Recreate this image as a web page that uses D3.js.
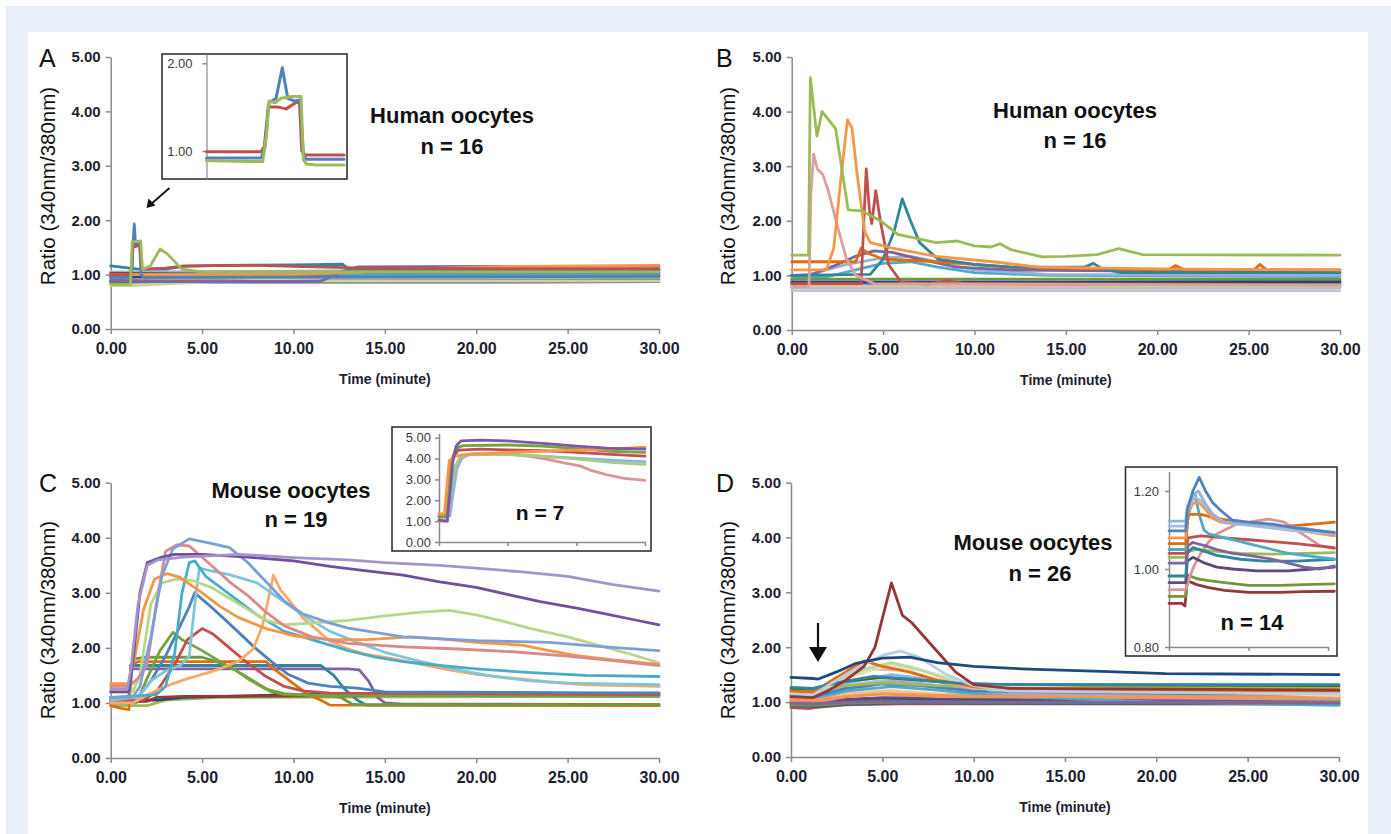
<!DOCTYPE html>
<html>
<head>
<meta charset="utf-8">
<script src="https://cdn.jsdelivr.net/npm/d3@7"></script>
<style>
  body { margin: 0; background: #fff; }
  svg { display: block; font-family: Arial, "Liberation Sans", sans-serif; }
</style>
</head>
<body>
<svg id="fig" width="1391" height="834"></svg>
<script>
const svg = d3.select("#fig");

// ---- shared ticks ----
const timeTicks = [0, 5, 10, 15, 20, 25, 30];
const ratioTicks = [0, 1, 2, 3, 4, 5];

// ---- panel A: human oocytes, n = 16 ----
const colorsA = ["#A5A5A5", "#B3A2C7", "#604A7B", "#77933C", "#C3D69B", "#1F497D", "#E6B9B8",
  "#95B3D7", "#953735", "#4BACC6", "#8064A2", "#F79646", "#31859C", "#4F81BD", "#C0504D", "#9BBB59"];
const seriesA = [
  [[0, 0.9], [30, 0.91]],
  [[0, 0.93], [12, 0.94], [30, 0.95]],
  [[0, 0.86], [10, 0.86], [20, 0.86], [30, 0.87]],
  [[0, 0.88], [14, 0.88], [30, 0.9]],
  [[0, 0.8], [1.1, 0.8], [5, 0.86], [8.5, 0.9], [12, 0.88], [30, 0.88]],
  [[0, 0.96], [15, 0.97], [30, 0.98]],
  [[0, 1.05], [10, 1.05], [30, 1.07]],
  [[0, 1.04], [8, 1.06], [18, 1.08], [30, 1.1]],
  [[0, 1.02], [14, 1.02], [30, 1.03]],
  [[0, 1.0], [6, 1.02], [14, 1.0], [30, 1.0]],
  [[0, 0.9], [3, 0.87], [11.5, 0.88], [12.6, 1.05], [13.5, 1.14], [20, 1.15], [30, 1.15]],
  [[0, 1.0], [10, 1.0], [14, 1.05], [18, 1.12], [22, 1.15], [30, 1.17]],
  [[0, 1.16], [0.8, 1.13], [1.5, 1.1], [3, 1.1], [4, 1.15], [6, 1.17], [10, 1.18], [12.7, 1.19], [13, 1.1], [30, 1.08]],
  [[0, 0.95], [1.1, 0.95], [1.18, 1.1], [1.22, 1.55], [1.29, 1.93], [1.36, 1.55], [1.58, 1.58], [1.66, 1.0], [1.8, 0.95], [30, 0.97]],
  [[0, 1.0], [1.1, 1.0], [1.2, 1.5], [1.4, 1.52], [1.6, 1.55], [1.7, 1.1], [3, 1.12], [4, 1.16], [8, 1.17], [10, 1.15], [14, 1.12], [30, 1.1]],
  [[0, 0.82], [1.08, 0.82], [1.18, 1.6], [1.64, 1.62], [1.74, 1.1], [2.15, 1.15], [2.7, 1.47], [3.1, 1.38], [3.9, 1.1], [5, 1.05], [30, 1.05]]
];

// inset A (three oocytes, zoomed on the transient)
const colorsInsetA = ["#C0504D", "#4F81BD", "#9BBB59"];
const seriesInsetA = [
  [[0.5, 0.99], [1.2, 0.99], [1.24, 1.05], [1.29, 1.5], [1.42, 1.5], [1.52, 1.48], [1.64, 1.55], [1.69, 1.56], [1.72, 1.0], [1.76, 0.955], [2.26, 0.955]],
  [[0.5, 0.92], [1.2, 0.92], [1.25, 1.05], [1.3, 1.55], [1.39, 1.6], [1.47, 1.95], [1.54, 1.6], [1.62, 1.57], [1.7, 1.58], [1.74, 0.95], [1.78, 0.905], [2.26, 0.905]],
  [[0.5, 0.89], [1.0, 0.88], [1.22, 0.88], [1.27, 1.2], [1.3, 1.57], [1.38, 1.55], [1.45, 1.6], [1.6, 1.62], [1.71, 1.62], [1.74, 0.9], [1.78, 0.85], [1.9, 0.84], [2.26, 0.84]]
];
const insetATicks = [1, 2];

// ---- panel B: human oocytes, n = 16 ----
const colorsB = ["#CCC1DA", "#A5A5A5", "#C3D69B", "#E6B9B8", "#4F81BD", "#1F497D", "#77933C",
  "#4BACC6", "#95B3D7", "#8064A2", "#E46C0A", "#31859C", "#C0504D", "#D8A0A0", "#F79646", "#9BBB59"];
const seriesB = [
  [[0, 0.72], [30, 0.72]],
  [[0, 0.78], [30, 0.78]],
  [[0, 0.8], [30, 0.8]],
  [[0, 0.82], [13, 0.82], [13.2, 0.8], [16, 0.8], [16.3, 0.83], [30, 0.84]],
  [[0, 0.85], [15, 0.87], [30, 0.9]],
  [[0, 0.88], [30, 0.88]],
  [[0, 0.93], [30, 0.93]],
  [[0, 0.98], [2, 0.98], [3.5, 1.1], [5, 1.22], [6.5, 1.25], [8, 1.15], [10, 1.05], [14, 1.0], [30, 0.98]],
  [[0, 1.0], [1, 1.02], [3, 1.2], [5, 1.32], [6.5, 1.35], [8, 1.25], [10, 1.1], [14, 1.02], [30, 1.0]],
  [[0, 1.0], [1, 1.0], [2.5, 1.2], [3.5, 1.35], [4.5, 1.45], [5.5, 1.42], [7, 1.3], [9, 1.15], [12, 1.1], [30, 1.05]],
  [[0, 1.25], [3.5, 1.25], [3.8, 1.5], [4.2, 1.4], [5, 1.3], [8, 1.25], [12, 1.15], [20.6, 1.1], [21, 1.18], [21.5, 1.1], [25.3, 1.1], [25.6, 1.2], [26, 1.1], [30, 1.1]],
  [[0, 1.0], [4.3, 1.02], [5.0, 1.3], [5.6, 1.8], [6.05, 2.4], [6.5, 2.0], [7.0, 1.6], [8, 1.3], [10, 1.2], [12, 1.15], [16, 1.15], [16.5, 1.22], [17, 1.12], [18, 1.05], [30, 1.05]],
  [[0, 0.85], [3.8, 0.85], [3.95, 2.0], [4.08, 2.95], [4.25, 2.2], [4.38, 1.95], [4.6, 2.55], [4.85, 2.0], [5.3, 1.2], [6.0, 0.87], [7.5, 0.84], [8.5, 0.9], [9.5, 0.85], [30, 0.83]],
  [[0, 0.8], [0.95, 0.8], [1.05, 2.5], [1.2, 3.22], [1.4, 2.95], [1.7, 2.85], [2.0, 2.55], [2.5, 1.9], [3.0, 1.3], [3.5, 1.0], [4.5, 0.85], [30, 0.82]],
  [[0, 1.1], [1.9, 1.1], [2.3, 1.5], [2.7, 2.8], [3.05, 3.85], [3.3, 3.7], [3.6, 2.8], [4.0, 1.8], [4.3, 1.6], [5.5, 1.5], [7.9, 1.35], [11, 1.25], [13.5, 1.15], [20, 1.12], [30, 1.1]],
  [[0, 1.37], [0.92, 1.37], [1.02, 4.62], [1.38, 3.55], [1.66, 4.0], [2.0, 3.86], [2.4, 3.69], [3.09, 2.2], [3.85, 2.18], [4.9, 1.99], [5.8, 1.75], [7.9, 1.6], [9.05, 1.63], [10, 1.54], [10.9, 1.52], [11.4, 1.58], [12, 1.47], [13.7, 1.34], [15, 1.35], [16.7, 1.38], [17.9, 1.49], [19.2, 1.38], [30, 1.37]]
];

// ---- panel C: mouse oocytes, n = 19 ----
const colorsC = ["#9BBB59", "#1F497D", "#953735", "#8064A2", "#31859C", "#E46C0A", "#6E9A3A",
  "#77A33C", "#C0504D", "#4F81BD", "#FFA86B", "#7FC6DC", "#4BACC6", "#B7D68A", "#F79646",
  "#D98A8A", "#7F9ED8", "#6F4FA0", "#A593CC"];
const seriesC = [
  [[0, 0.95], [2, 0.95], [3, 1.05], [6, 1.1], [30, 1.12]],
  [[0, 1.05], [2.5, 1.05], [4, 1.1], [10, 1.15], [30, 1.18]],
  [[0, 1.02], [2, 1.03], [2.5, 1.1], [4, 1.12], [30, 1.15]],
  [[0, 1.1], [1.0, 1.1], [1.1, 1.62], [13, 1.62], [13.6, 1.6], [14.1, 1.4], [14.6, 1.1], [15, 1.0], [16, 0.98], [30, 0.97]],
  [[0, 1.05], [1.0, 1.05], [1.1, 1.68], [11.5, 1.68], [12.2, 1.5], [12.8, 1.25], [13.5, 1.05], [14, 0.96], [30, 0.96]],
  [[0, 0.95], [0.6, 0.9], [1.0, 0.88], [1.1, 1.7], [1.5, 1.75], [8.5, 1.75], [9, 1.6], [10, 1.35], [10.8, 1.15], [11.5, 1.05], [12, 0.96], [30, 0.95]],
  [[0, 1.0], [1.0, 1.0], [1.2, 1.8], [2, 1.83], [5, 1.83], [5.8, 1.75], [6.8, 1.6], [7.8, 1.4], [8.8, 1.2], [9.5, 1.15], [12, 1.13], [12.6, 1.1], [13.2, 0.98], [13.6, 0.97], [30, 0.97]],
  [[0, 1.0], [1.4, 1.0], [2, 1.45], [2.7, 1.95], [3.4, 2.28], [3.9, 2.15], [5, 1.95], [6, 1.75], [6.8, 1.6], [7.6, 1.42], [8.5, 1.25], [9.5, 1.17], [11, 1.14], [30, 1.12]],
  [[0, 1.05], [1.8, 1.05], [2.5, 1.2], [3, 1.45], [3.5, 1.7], [4.2, 2.15], [5, 2.35], [5.6, 2.25], [6.5, 2.0], [7.5, 1.72], [8.5, 1.48], [9.5, 1.3], [10.5, 1.22], [12, 1.18], [30, 1.15]],
  [[0, 1.1], [1.5, 1.1], [2.2, 1.4], [3, 1.85], [3.8, 2.4], [4.3, 2.75], [4.6, 3.0], [5.3, 2.8], [6.3, 2.5], [7.1, 2.25], [7.9, 2.0], [8.8, 1.75], [9.7, 1.52], [10.8, 1.36], [12, 1.3], [13.5, 1.27], [15, 1.2], [30, 1.18]],
  [[0, 1.0], [1.2, 1.0], [2, 1.15], [3, 1.3], [4, 1.42], [5, 1.52], [6, 1.62], [7, 1.76], [7.8, 1.98], [8.3, 2.4], [8.7, 3.0], [8.9, 3.32], [9.3, 3.05], [9.8, 2.85], [10.5, 2.55], [11.2, 2.35], [12, 2.12], [13, 1.98], [14, 1.88], [15.5, 1.8], [17, 1.7], [18.5, 1.6], [20, 1.52], [22, 1.45], [24, 1.38], [26, 1.33], [30, 1.3]],
  [[0, 1.05], [1.5, 1.1], [2.2, 1.4], [3.0, 1.58], [3.8, 1.68], [4.3, 1.85], [4.6, 2.8], [4.85, 3.45], [5.5, 3.4], [6.5, 3.33], [8, 3.18], [9, 2.95], [10.5, 2.6], [12, 2.3], [13.5, 2.1], [15, 1.92], [17, 1.75], [19, 1.6], [21, 1.48], [23, 1.4], [25, 1.36], [30, 1.33]],
  [[0, 1.1], [2.5, 1.15], [3.0, 1.3], [3.5, 1.9], [3.9, 3.0], [4.3, 3.55], [4.6, 3.58], [5.2, 3.3], [6, 3.1], [7, 2.85], [8, 2.6], [9.5, 2.3], [11.5, 2.1], [13, 1.95], [14.5, 1.83], [16, 1.75], [18, 1.68], [20, 1.62], [23, 1.55], [26, 1.5], [30, 1.48]],
  [[0, 1.2], [1.2, 1.2], [1.6, 1.5], [2.2, 2.8], [2.8, 3.18], [3.6, 3.25], [4.5, 3.22], [5.5, 3.1], [6.5, 2.9], [7.5, 2.7], [8.5, 2.5], [9.5, 2.42], [11, 2.45], [13, 2.5], [15, 2.58], [17, 2.65], [18.5, 2.68], [20, 2.6], [21.5, 2.48], [23, 2.35], [25, 2.2], [27, 2.02], [28.5, 1.88], [30, 1.73]],
  [[0, 1.35], [1.0, 1.35], [1.3, 1.8], [1.8, 2.7], [2.4, 3.25], [3.1, 3.35], [3.8, 3.28], [5, 3.0], [6, 2.75], [7, 2.55], [8.5, 2.35], [10, 2.22], [12, 2.15], [14, 2.15], [16.5, 2.2], [18.5, 2.15], [20, 2.1], [22.5, 2.05], [24, 1.95], [25.5, 1.86], [27.5, 1.78], [30, 1.7]],
  [[0, 1.3], [1.0, 1.3], [1.5, 1.45], [2.0, 1.7], [2.5, 2.8], [3.0, 3.75], [3.6, 3.87], [4.3, 3.85], [5.5, 3.5], [6.5, 3.2], [7.5, 2.95], [8.5, 2.65], [9.5, 2.4], [11, 2.2], [13, 2.08], [16, 2.02], [19, 1.98], [22, 1.93], [25, 1.85], [28, 1.75], [30, 1.68]],
  [[0, 1.1], [1.2, 1.1], [1.6, 1.3], [2.2, 2.2], [2.8, 3.3], [3.4, 3.8], [4.3, 3.98], [5.5, 3.9], [6.5, 3.82], [7.5, 3.55], [8.5, 3.2], [9.5, 2.85], [10.5, 2.62], [12, 2.45], [13, 2.36], [16, 2.2], [20, 2.13], [24, 2.1], [27, 2.02], [30, 1.95]],
  [[0, 1.2], [1.0, 1.2], [1.2, 1.7], [1.6, 3.0], [2.0, 3.55], [2.8, 3.65], [3.5, 3.7], [5, 3.7], [7.5, 3.65], [10, 3.58], [12, 3.48], [14, 3.4], [16, 3.32], [18, 3.2], [20, 3.1], [22, 2.95], [23.5, 2.84], [25.5, 2.72], [27, 2.62], [28.5, 2.52], [30, 2.42]],
  [[0, 1.25], [0.9, 1.25], [1.1, 1.6], [1.5, 2.8], [2.0, 3.5], [2.6, 3.6], [4, 3.65], [7, 3.7], [10, 3.64], [13, 3.6], [15, 3.55], [18, 3.5], [20, 3.45], [22.5, 3.38], [25, 3.3], [27.5, 3.15], [30, 3.03]]
];

// inset C (seven oocytes)
const colorsInsetC = ["#D99694", "#8EB4E3", "#A8CB83", "#C0504D", "#77A33C", "#F79646", "#7F56A8"];
const seriesInsetC = [
  [[0, 1.0], [1.2, 1.0], [1.6, 2.0], [2.2, 3.3], [3, 4.0], [4, 4.18], [10, 4.2], [13, 4.12], [16, 3.95], [18, 3.8], [20.5, 3.65], [22, 3.45], [24.5, 3.22], [27, 3.05], [30, 2.95]],
  [[0, 1.25], [1.6, 1.25], [2.0, 2.2], [2.6, 3.5], [3.3, 4.0], [4.5, 4.22], [10, 4.22], [15, 4.12], [20, 4.02], [25, 3.92], [30, 3.85]],
  [[0, 1.3], [1.2, 1.3], [1.7, 2.3], [2.3, 3.6], [3, 4.05], [4, 4.2], [10, 4.2], [15, 4.1], [20, 3.98], [25, 3.82], [30, 3.72]],
  [[0, 1.2], [1.0, 1.2], [1.4, 2.6], [1.9, 4.0], [2.8, 4.4], [6, 4.45], [10, 4.42], [15, 4.38], [20, 4.3], [25, 4.2], [30, 4.12]],
  [[0, 1.2], [1.0, 1.2], [1.4, 2.5], [1.9, 4.0], [2.5, 4.5], [3.5, 4.62], [10, 4.65], [15, 4.6], [20, 4.48], [25, 4.35], [30, 4.3]],
  [[0, 1.35], [0.8, 1.35], [1.1, 2.5], [1.5, 3.9], [2.2, 4.1], [4, 4.2], [10, 4.3], [15, 4.35], [20, 4.4], [25, 4.45], [30, 4.55]],
  [[0, 1.05], [1.2, 1.0], [1.5, 2.0], [2.0, 3.8], [2.5, 4.6], [3.2, 4.85], [6, 4.88], [9.8, 4.85], [12, 4.8], [15.6, 4.72], [20, 4.6], [24.4, 4.5], [30, 4.45]]
];
const insetCTimeTicks = [0, 10, 20, 30];

// ---- panel D: mouse oocytes, n = 26 ----
const colorsD = ["#CCC1DA", "#FCD5B5", "#215968", "#93CDDD", "#604A7B", "#8EB4E3", "#C0504D",
  "#376092", "#FAC090", "#77933C", "#B3A2C7", "#D99694", "#4BACC6", "#4F81BD", "#8064A2",
  "#9BBB59", "#F79646", "#4F6228", "#E6B9B8", "#D7E4BD", "#C3D69B", "#E46C0A", "#31859C",
  "#B9CDE5", "#953735", "#1F497D"];
const seriesD = [
  [[0, 0.96], [1.2, 0.95], [3, 1.0], [6, 1.03], [30, 1.0]],
  [[0, 1.06], [1.2, 1.05], [3, 1.15], [5.5, 1.22], [9, 1.12], [30, 1.05]],
  [[0, 0.99], [1.2, 0.98], [3, 1.03], [6, 1.05], [30, 1.04]],
  [[0, 1.13], [1.2, 1.11], [3, 1.3], [5.5, 1.42], [8, 1.3], [11, 1.18], [30, 1.12]],
  [[0, 1.02], [1.2, 1.0], [3, 1.05], [5, 1.08], [30, 1.02]],
  [[0, 1.14], [1.2, 1.12], [3, 1.35], [5.5, 1.5], [7.5, 1.42], [10, 1.22], [30, 1.18]],
  [[0, 0.9], [1, 0.88], [1.3, 0.9], [3, 0.95], [6, 0.97], [30, 0.96]],
  [[0, 0.93], [1.2, 0.92], [3, 0.96], [6, 0.98], [30, 0.97]],
  [[0, 1.08], [1.2, 1.06], [3, 1.15], [5, 1.2], [8, 1.15], [30, 1.08]],
  [[0, 0.95], [1.2, 0.94], [3, 0.98], [6, 1.0], [30, 1.0]],
  [[0, 1.05], [1.2, 1.03], [3, 1.2], [5.5, 1.38], [8, 1.3], [11, 1.15], [30, 1.1]],
  [[0, 1.0], [1.2, 0.98], [3, 1.1], [5, 1.15], [8, 1.1], [30, 1.05]],
  [[0, 1.1], [1.2, 1.08], [3, 1.2], [5.5, 1.28], [8, 1.22], [11, 1.12], [20, 1.0], [30, 0.94]],
  [[0, 1.12], [1.2, 1.1], [3, 1.25], [5, 1.33], [7, 1.3], [10, 1.2], [30, 1.12]],
  [[0, 0.98], [1.2, 0.97], [3, 1.0], [5, 1.02], [9, 1.0], [30, 0.98]],
  [[0, 1.22], [1.2, 1.2], [3, 1.3], [5, 1.35], [8, 1.3], [12, 1.27], [30, 1.27]],
  [[0, 1.05], [1.2, 1.03], [3, 1.1], [5, 1.15], [8, 1.12], [12, 1.1], [30, 1.1]],
  [[0, 1.25], [1.2, 1.24], [3, 1.38], [5, 1.45], [7, 1.4], [10, 1.32], [30, 1.3]],
  [[0, 1.18], [1.2, 1.16], [2.5, 1.38], [4.5, 1.6], [6, 1.58], [8, 1.4], [10, 1.25], [30, 1.2]],
  [[0, 1.16], [1.2, 1.14], [3, 1.45], [5.5, 1.68], [7.5, 1.55], [10, 1.3], [30, 1.12]],
  [[0, 1.17], [1.2, 1.15], [2.5, 1.4], [4, 1.6], [5.5, 1.72], [7, 1.6], [9, 1.35], [11, 1.22], [30, 1.15]],
  [[0, 1.2], [1.2, 1.18], [2.5, 1.45], [4, 1.75], [5, 1.65], [6.5, 1.55], [8, 1.4], [10, 1.28], [13, 1.22], [30, 1.2]],
  [[0, 1.27], [1.2, 1.25], [2.5, 1.35], [4.5, 1.47], [6.5, 1.42], [9, 1.35], [12, 1.32], [30, 1.32]],
  [[0, 1.15], [1.2, 1.13], [2, 1.3], [3.5, 1.6], [5, 1.85], [6, 1.93], [7, 1.82], [8.5, 1.5], [10, 1.3], [12, 1.2], [30, 1.15]],
  [[0, 1.1], [1.2, 1.08], [2, 1.2], [3, 1.4], [4, 1.65], [4.6, 2.0], [5.5, 3.17], [6.1, 2.58], [6.6, 2.45], [7.8, 2.0], [9, 1.55], [10, 1.32], [12, 1.25], [30, 1.22]],
  [[0, 1.45], [1.2, 1.43], [1.5, 1.42], [2.5, 1.55], [3.5, 1.7], [5, 1.8], [6.5, 1.82], [8, 1.72], [10, 1.65], [13, 1.6], [17, 1.56], [20.5, 1.52], [30, 1.5]]
];

// inset D (fourteen oocytes, small responses)
const colorsInsetD = ["#953735", "#77933C", "#D99694", "#604A7B", "#9BBB59", "#31859C", "#8064A2",
  "#C0504D", "#4BACC6", "#E46C0A", "#F79646", "#A6BDE0", "#95B3D7", "#4F81BD"];
const seriesInsetD = [
  [[0, 0.912], [1.6, 0.912], [2.0, 0.905], [2.3, 0.97], [3.5, 0.96], [5, 0.952], [7, 0.945], [10, 0.94], [14, 0.94], [17, 0.942], [20.8, 0.943]],
  [[0, 0.93], [2.1, 0.93], [2.3, 0.985], [3.5, 0.975], [5, 0.97], [7, 0.965], [10, 0.958], [14, 0.958], [17, 0.96], [20.8, 0.962]],
  [[0, 0.947], [2.1, 0.947], [2.6, 0.98], [3.2, 1.01], [4, 1.04], [5, 1.07], [6, 1.09], [7, 1.1], [8.5, 1.115], [10, 1.12], [12.5, 1.128], [14.5, 1.12], [16, 1.1], [17.5, 1.08], [19, 1.06], [20.8, 1.052]],
  [[0, 0.965], [2.1, 0.965], [2.3, 1.02], [3, 1.03], [4.5, 1.015], [6, 1.005], [8, 1.0], [11, 0.995], [15, 0.995], [18, 1.0], [20.8, 1.005]],
  [[0, 1.03], [2.1, 1.03], [2.4, 1.045], [3.5, 1.05], [6, 1.045], [9, 1.04], [13, 1.038], [17, 1.04], [20.8, 1.042]],
  [[0, 0.982], [2.1, 0.982], [2.3, 1.04], [3, 1.055], [4.5, 1.045], [6, 1.035], [9, 1.025], [12, 1.02], [16, 1.02], [20.8, 1.025]],
  [[0, 1.015], [2.1, 1.015], [2.4, 1.06], [3, 1.068], [4.5, 1.06], [6, 1.05], [8, 1.04], [10, 1.035], [13, 1.025], [15, 1.015], [17, 1.005], [19, 1.0], [20.8, 1.008]],
  [[0, 1.04], [2.1, 1.04], [2.4, 1.08], [4, 1.085], [7, 1.08], [10, 1.075], [13, 1.07], [16, 1.065], [20.8, 1.055]],
  [[0, 1.05], [2.1, 1.05], [2.3, 1.12], [2.8, 1.17], [3.3, 1.19], [3.8, 1.14], [4.4, 1.1], [5, 1.09], [7, 1.08], [9, 1.07], [11, 1.06], [13, 1.05], [15, 1.04], [17, 1.035], [20.8, 1.025]],
  [[0, 1.065], [2.1, 1.065], [2.4, 1.14], [4, 1.14], [6, 1.13], [9, 1.12], [12, 1.11], [15, 1.11], [18, 1.115], [20.8, 1.12]],
  [[0, 1.08], [2.1, 1.08], [2.3, 1.14], [3.0, 1.168], [3.8, 1.17], [4.5, 1.155], [5.5, 1.13], [6.5, 1.12], [10, 1.115], [16, 1.1], [20.8, 1.085]],
  [[0, 1.11], [2.1, 1.11], [2.3, 1.15], [3.2, 1.185], [4, 1.175], [5.5, 1.14], [7, 1.118], [10, 1.112], [15, 1.1], [20.8, 1.09]],
  [[0, 1.123], [2.1, 1.123], [2.3, 1.16], [3.0, 1.19], [3.7, 1.2], [4.5, 1.17], [5.5, 1.14], [7, 1.12], [10, 1.115], [14, 1.11], [17, 1.105], [20.8, 1.09]],
  [[0, 1.098], [2.1, 1.098], [2.3, 1.15], [3.0, 1.2], [3.8, 1.235], [4.6, 1.2], [5.5, 1.17], [6.5, 1.15], [8, 1.125], [10, 1.12], [13, 1.115], [16, 1.105], [18, 1.1], [20.8, 1.094]]
];
const insetDTicks = [0.8, 1.0, 1.2];
const insetDTimeTicks = [0, 10, 20];

// ---- page background ----
svg.append("rect").attr("width", 1391).attr("height", 834).attr("fill", "#fff");
svg.append("rect").attr("x", 6).attr("y", 6).attr("width", 1385).attr("height", 828).attr("fill", "#e7eff9");
svg.append("rect").attr("x", 28).attr("y", 32).attr("width", 1340).attr("height", 802).attr("fill", "#fff");

const fmt = d3.format(".2f");
const axisColor = "#8a8a8a";

function styleAxis(g, fontSize, bold, fill) {
  g.attr("font-family", null).attr("font-size", null);
  g.select(".domain").attr("stroke", axisColor).attr("stroke-width", 1.5);
  g.selectAll(".tick line").attr("stroke", axisColor).attr("stroke-width", 1.5);
  g.selectAll(".tick text")
    .attr("font-size", fontSize)
    .attr("font-weight", bold ? "bold" : "normal")
    .attr("fill", fill);
}

function drawLines(g, x, y, series, colors, width) {
  const line = d3.line().x(d => x(d[0])).y(d => y(d[1]));
  g.selectAll(null)
    .data(series)
    .enter()
    .append("path")
    .attr("d", line)
    .attr("fill", "none")
    .attr("stroke", (d, i) => colors[i])
    .attr("stroke-width", width)
    .attr("stroke-linejoin", "round")
    .attr("stroke-linecap", "round");
}

function drawPanel(p, series, colors) {
  const x = d3.scaleLinear().domain([0, 30]).range([p.x0, p.x1]);
  const y = d3.scaleLinear().domain([0, 5]).range([p.y0, p.y1]);
  const g = svg.append("g");

  g.append("g")
    .attr("transform", `translate(${p.x0},0)`)
    .call(d3.axisLeft(y).tickValues(ratioTicks).tickFormat(fmt).tickSize(5).tickSizeOuter(0).tickPadding(5))
    .call(g => styleAxis(g, 15, true, "#1e1e32"));

  g.append("g")
    .attr("transform", `translate(0,${p.y0})`)
    .call(d3.axisBottom(x).tickValues(timeTicks).tickFormat(fmt).tickSize(5).tickSizeOuter(0).tickPadding(9))
    .call(g => styleAxis(g, 16, true, "#1e1e32"));

  drawLines(g.append("g"), x, y, series, colors, 2.8);

  g.append("text")
    .attr("x", (p.x0 + p.x1) / 2)
    .attr("y", p.y0 + 55)
    .attr("text-anchor", "middle")
    .attr("font-size", 14)
    .attr("font-weight", "bold")
    .attr("fill", "#1e1e32")
    .text("Time (minute)");

  g.append("text")
    .attr("transform", `translate(${p.labelX},${p.labelY}) rotate(-90)`)
    .attr("text-anchor", "middle")
    .attr("font-size", 20.5)
    .attr("fill", "#111")
    .text("Ratio (340nm/380nm)");

  g.append("text")
    .attr("x", p.letterX)
    .attr("y", p.letterY)
    .attr("font-size", 25)
    .attr("fill", "#111")
    .text(p.letter);

  p.titles.forEach(t => {
    g.append("text")
      .attr("x", t[0])
      .attr("y", t[1])
      .attr("text-anchor", "middle")
      .attr("font-size", 22)
      .attr("font-weight", "bold")
      .attr("fill", "#111")
      .text(t[2]);
  });
  return g;
}

function insetFrame(b) {
  svg.append("rect")
    .attr("x", b.x).attr("y", b.y).attr("width", b.w).attr("height", b.h)
    .attr("fill", "#fff").attr("stroke", "#333").attr("stroke-width", 1.6);
}

// ---- panels ----
drawPanel({ x0: 110.7, x1: 659, y0: 329, y1: 57, labelX: 55, labelY: 186, letter: "A", letterX: 39, letterY: 67,
  titles: [[452, 123, "Human oocytes"], [452, 154, "n = 16"]] }, seriesA, colorsA);
drawPanel({ x0: 791.7, x1: 1340, y0: 330, y1: 57, labelX: 735, labelY: 186, letter: "B", letterX: 716, letterY: 67,
  titles: [[1075, 118, "Human oocytes"], [1075, 148, "n = 16"]] }, seriesB, colorsB);
drawPanel({ x0: 110.7, x1: 659, y0: 758, y1: 482.7, labelX: 55, labelY: 620, letter: "C", letterX: 39, letterY: 492,
  titles: [[291, 498, "Mouse oocytes"], [296, 527, "n = 19"]] }, seriesC, colorsC);
drawPanel({ x0: 791, x1: 1339, y0: 757, y1: 482.5, labelX: 735, labelY: 620, letter: "D", letterX: 716, letterY: 492,
  titles: [[1033, 550, "Mouse oocytes"], [1040, 581, "n = 26"]] }, seriesD, colorsD);

// ---- inset A ----
(function () {
  const b = { x: 162, y: 54, w: 185, h: 125 };
  insetFrame(b);
  const x = d3.scaleLinear().domain([0.5, 2.26]).range([206.5, 344]);
  const y = d3.scaleLinear().domain([0.68, 2.106]).range([179, 54]);
  const g = svg.append("g");
  g.append("g")
    .attr("transform", "translate(206.5,0)")
    .call(d3.axisLeft(y).tickValues(insetATicks).tickFormat(fmt).tickSize(4).tickSizeOuter(0).tickPadding(10))
    .call(g => styleAxis(g, 13, false, "#3a3a3a"));
  g.select(".domain").attr("stroke-width", 1.2);
  drawLines(g.append("g"), x, y, seriesInsetA, colorsInsetA, 3);
})();

// ---- inset C ----
(function () {
  const b = { x: 392, y: 427, w: 259, h: 124 };
  insetFrame(b);
  const x = d3.scaleLinear().domain([0, 30]).range([439, 645]);
  const y = d3.scaleLinear().domain([0, 5.2]).range([542, 542 - 5.2 * 20.86]);
  const g = svg.append("g");
  g.append("g")
    .attr("transform", "translate(439,0)")
    .call(d3.axisLeft(y).tickValues(ratioTicks).tickFormat(fmt).tickSize(4).tickSizeOuter(0).tickPadding(4))
    .call(g => styleAxis(g, 13, false, "#3a3a3a"));
  g.append("g")
    .attr("transform", "translate(0,542)")
    .call(d3.axisBottom(x).tickValues(insetCTimeTicks).tickFormat("").tickSize(4).tickSizeOuter(0))
    .call(g => styleAxis(g, 13, false, "#3a3a3a"));
  drawLines(g.append("g"), x, y, seriesInsetC, colorsInsetC, 2.8);
  g.append("text").attr("x", 540).attr("y", 520).attr("text-anchor", "middle")
    .attr("font-size", 21).attr("font-weight", "bold").attr("fill", "#111").text("n = 7");
})();

// ---- inset D ----
(function () {
  const b = { x: 1125.5, y: 467, w: 211.5, h: 189 };
  insetFrame(b);
  const x = d3.scaleLinear().domain([0, 20]).range([1169, 1328]);
  const y = d3.scaleLinear().domain([0.8, 1.25]).range([647, 471.5]);
  const g = svg.append("g");
  g.append("g")
    .attr("transform", "translate(1169,0)")
    .call(d3.axisLeft(y).tickValues(insetDTicks).tickFormat(fmt).tickSize(4).tickSizeOuter(0).tickPadding(6))
    .call(g => styleAxis(g, 13, false, "#3a3a3a"));
  g.append("g")
    .attr("transform", "translate(0,647)")
    .call(d3.axisBottom(x).tickValues(insetDTimeTicks).tickFormat("").tickSize(4).tickSizeOuter(0))
    .call(g => styleAxis(g, 13, false, "#3a3a3a"));
  drawLines(g.append("g"), x, y, seriesInsetD, colorsInsetD, 2.8);
  g.append("text").attr("x", 1252).attr("y", 630).attr("text-anchor", "middle")
    .attr("font-size", 22).attr("font-weight", "bold").attr("fill", "#111").text("n = 14");
})();

// ---- arrows ----
svg.append("line").attr("x1", 169.5).attr("y1", 188).attr("x2", 150).attr("y2", 205)
  .attr("stroke", "#111").attr("stroke-width", 1.8);
svg.append("path").attr("d", "M146.5,208 L148.5,198.5 L155.5,205.5 Z").attr("fill", "#111");
svg.append("line").attr("x1", 818).attr("y1", 623).attr("x2", 818).attr("y2", 650)
  .attr("stroke", "#111").attr("stroke-width", 2.2);
svg.append("path").attr("d", "M809,647 L827,647 L818,662 Z").attr("fill", "#111");
</script>
</body>
</html>
